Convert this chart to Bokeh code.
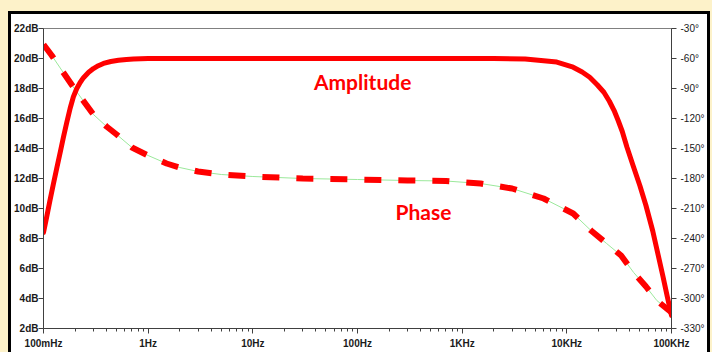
from bokeh.plotting import figure
from bokeh.models import Range1d, LinearAxis, FixedTicker, ColumnDataSource
from bokeh.core.properties import value
from bokeh.embed import file_html
from bokeh.resources import INLINE

# ---- data ----
amp_freq = [0.1, 0.107, 0.115, 0.124, 0.134, 0.145, 0.155, 0.167, 0.18, 0.193, 0.208, 0.224, 0.241,
            0.27, 0.3, 0.334, 0.374, 0.44, 0.52, 0.62, 0.724, 0.85, 1, 10, 100, 1000, 2000, 4000,
            8020, 11490, 14000, 16540, 19500, 22590, 25500, 28300, 31000, 33800, 37500, 43000,
            50000, 57000, 66200, 74000, 83000, 91000, 100000]
amp_db = [8.4, 9.4, 10.5, 11.6, 12.7, 13.8, 14.75, 15.75, 16.7, 17.45, 18.0, 18.4, 18.72,
          19.08, 19.33, 19.52, 19.67, 19.8, 19.88, 19.94, 19.97, 19.99, 20.0, 20.0, 20.0, 20.0, 20.0, 19.97,
          19.76, 19.42, 19.1, 18.75, 18.25, 17.75, 17.15, 16.53, 15.85, 15.15, 14.1, 12.85,
          11.5, 10.2, 8.5, 7.0, 5.45, 4.15, 2.87]

ph_freq = [0.1, 0.12, 0.15, 0.2, 0.3, 0.4, 0.5, 0.7, 1, 1.5, 2, 3, 5, 10, 30, 100, 300, 700,
           1500, 3000, 6000, 11500, 17000, 24000, 33000, 43500, 57000, 72400, 100000]
ph_deg = [-46, -57, -72, -91, -116, -128, -136, -149, -157, -165, -169, -173, -176, -178, -180,
          -181, -182, -182.5, -185, -190, -200, -215, -232, -245, -257, -274, -288, -302, -314]

x_ticks = [0.1, 1, 10, 100, 1000, 10000, 100000]
x_labels = ["100mHz", "1Hz", "10Hz", "100Hz", "1KHz", "10KHz", "100KHz"]
x_minor = [d * m for d in [0.1, 1, 10, 100, 1000, 10000] for m in range(2, 10)]

db_ticks = [2, 4, 6, 8, 10, 12, 14, 16, 18, 20, 22]
db_labels = ["2dB", "4dB", "6dB", "8dB", "10dB", "12dB", "14dB", "16dB", "18dB", "20dB", "22dB"]

deg_ticks = [-330, -300, -270, -240, -210, -180, -150, -120, -90, -60, -30]
deg_labels = ["-330°", "-300°", "-270°", "-240°", "-210°", "-180°", "-150°", "-120°", "-90°", "-60°", "-30°"]

notes = ["Amplitude", "Phase"]
note_x = [112, 427]
note_y = [18.45, 9.8]

RED = "#FF0000"
YELLOW = "#FDF2C9"
LABEL_FONT = "Liberation Sans"

p = figure(frame_width=628, frame_height=300, x_axis_type="log",
           x_range=Range1d(0.1, 1e5), y_range=Range1d(2, 22),
           output_backend="svg", toolbar_location=None,
           min_border_left=29, min_border_right=32, min_border_top=14, min_border_bottom=24,
           border_fill_color="white", background_fill_color="white",
           outline_line_color="#808080", outline_line_width=1)
p.extra_y_ranges = {"phase": Range1d(-330, -30)}
p.xgrid.visible = False
p.ygrid.visible = False

p.styles = {
    "position": "absolute",
    "left": "8px",
    "top": "11px",
    "border-left": "3px solid black",
    "border-right": "3px solid black",
    "border-top": "3px solid black",
    "outline": "30px solid " + YELLOW,
    "box-shadow": "0 0 0 30px " + YELLOW,
}

def style_axis(ax):
    ax.axis_line_color = "#404040"
    ax.major_tick_line_color = "#404040"
    ax.minor_tick_line_color = "#404040"
    ax.major_label_text_font = LABEL_FONT
    ax.major_label_text_font_style = "bold"
    ax.major_label_text_font_size = "10px"
    ax.major_label_text_color = "#1a1a1a"
    ax.major_tick_in = 0
    ax.minor_tick_in = 0

xa = p.xaxis[0]
xa.ticker = FixedTicker(ticks=x_ticks, minor_ticks=x_minor)
xa.major_label_overrides = {t: l for t, l in zip(x_ticks, x_labels)}
style_axis(xa)
xa.major_tick_out = 5
xa.minor_tick_out = 3
xa.major_label_standoff = 4

ya = p.yaxis[0]
ya.ticker = FixedTicker(ticks=db_ticks)
ya.major_label_overrides = {t: l for t, l in zip(db_ticks, db_labels)}
style_axis(ya)
ya.major_tick_out = 5
ya.minor_tick_out = 0
ya.major_label_standoff = 0

ra = LinearAxis(y_range_name="phase", ticker=FixedTicker(ticks=deg_ticks))
ra.major_label_overrides = {t: l for t, l in zip(deg_ticks, deg_labels)}
style_axis(ra)
ra.major_label_text_font_style = "normal"
ra.major_tick_out = 5
ra.minor_tick_out = 0
ra.major_label_standoff = 4
p.add_layout(ra, "right")

# phase: thin green guide under thick red dashes
p.line(ph_freq, ph_deg, y_range_name="phase", line_color="#9BE89B", line_width=1)
p.line(ph_freq, ph_deg, y_range_name="phase", line_color=RED, line_width=6,
       line_dash="17 17", line_cap="butt")

# amplitude
p.line(amp_freq, amp_db, line_color=RED, line_width=5, line_join="round", line_cap="round")

src = ColumnDataSource(dict(x=note_x, y=note_y, t=notes))
p.text(x="x", y="y", text="t", source=src, text_font=value("Lato"),
       text_font_style="bold", text_font_size="21px", text_color=RED,
       text_align="center", text_baseline="middle")

open("out.html", "w").write(file_html(p, INLINE))
